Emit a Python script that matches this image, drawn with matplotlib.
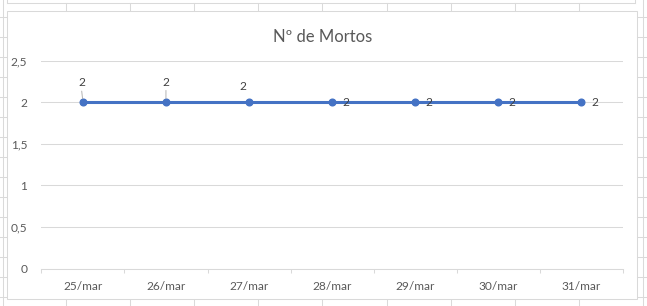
import matplotlib.pyplot as plt
from matplotlib.lines import Line2D
from matplotlib.patches import Rectangle

# chart data
dates = ["25/mar", "26/mar", "27/mar", "28/mar", "29/mar", "30/mar", "31/mar"]
deaths = [2, 2, 2, 2, 2, 2, 2]
y_ticks = [0, 0.5, 1, 1.5, 2, 2.5]
y_tick_labels = ["0", "0,5", "1", "1,5", "2", "2,5"]

W, H = 647, 306
GRID = "#d9d9d9"
SHEET = "#dadada"
TEXT = "#595959"

plt.rcParams["font.family"] = ["Lato", "DejaVu Sans"]

fig = plt.figure(figsize=(W / 100, H / 100), dpi=100)
fig.patch.set_facecolor("white")


def px(x, y):
    # pixel coords (top-left origin) -> figure fraction
    return x / W, 1 - y / H


def sheet_line(x0, y0, x1, y1, color=SHEET):
    (a, b), (c, d) = px(x0, y0), px(x1, y1)
    fig.add_artist(Line2D([a, c], [b, d], color=color, lw=0.75, zorder=-2))


# spreadsheet cells behind the chart
for cx in [66, 130, 194, 258, 322, 387, 451, 515, 579]:
    sheet_line(cx, 3, cx, 11)
    sheet_line(cx, 299, cx, 306)
sheet_line(7, 0, 7, 3)
sheet_line(635, 0, 635, 3)
sheet_line(7, 3, 635, 3)
sheet_line(2.5, 0, 2.5, 306)
sheet_line(643, 0, 643, 306)
for ry in range(17, 306, 20):
    sheet_line(0, ry, 7, ry)
    sheet_line(637, ry, 647, ry)

# chart frame
fx, fy = px(7, 299)
fig.add_artist(Rectangle((fx, fy), 630 / W, 288 / H, transform=fig.transFigure,
                         facecolor="white", edgecolor=GRID, lw=0.75, zorder=-1))

ax = fig.add_axes([41.3 / W, (306 - 268.5) / H, (623 - 41.3) / W, (268.5 - 60.7) / H])
ax.set_facecolor("none")

x = list(range(len(dates)))
ax.plot(x, deaths, color="#4472C4", lw=2.2, marker="o", markersize=4.8,
        solid_capstyle="round", zorder=3)

ax.set_xlim(-0.5, len(dates) - 0.5)
ax.set_ylim(0, 2.5)
ax.set_yticks(y_ticks)
ax.set_yticklabels(y_tick_labels)
ax.set_xticks(x)
ax.set_xticklabels(dates)
ax.set_xticks([i - 0.5 for i in range(len(dates) + 1)], minor=True)

ax.grid(axis="y", color=GRID, lw=0.75)
ax.set_axisbelow(True)
for s in ["top", "right", "left"]:
    ax.spines[s].set_visible(False)
ax.spines["bottom"].set_color(GRID)
ax.spines["bottom"].set_linewidth(0.75)

ax.tick_params(axis="y", length=0, pad=10, labelsize=8.6, labelcolor=TEXT)
ax.tick_params(axis="x", which="major", length=0, pad=9, labelsize=8.6, labelcolor=TEXT)
ax.tick_params(axis="x", which="minor", length=3, width=0.75, color=GRID)

# data labels (first three moved above with leader lines, rest to the right)
offsets = [(-1, 14), (0, 14.5), (-4.5, 11), (10, 0), (10, 0), (10, 0), (10, 0)]
for i, (xi, yi) in enumerate(zip(x, deaths)):
    dx, dy = offsets[i]
    if i < 2:
        ax.annotate(str(yi), (xi, yi), xytext=(dx, dy), textcoords="offset points",
                    ha="center", va="center", fontsize=8.6, color="#404040",
                    arrowprops=dict(arrowstyle="-", color="#a6a6a6", lw=0.6,
                                    shrinkA=0, shrinkB=2.5, relpos=(0.5, 0)))
    else:
        ax.annotate(str(yi), (xi, yi), xytext=(dx, dy), textcoords="offset points",
                    ha="center", va="center", fontsize=8.6, color="#404040")

tx, ty = px(323, 41.7)
fig.text(tx, ty, "Nº de Mortos", ha="center", va="baseline", fontsize=12,
         color=TEXT)

fig.savefig("out.png", dpi=100)
